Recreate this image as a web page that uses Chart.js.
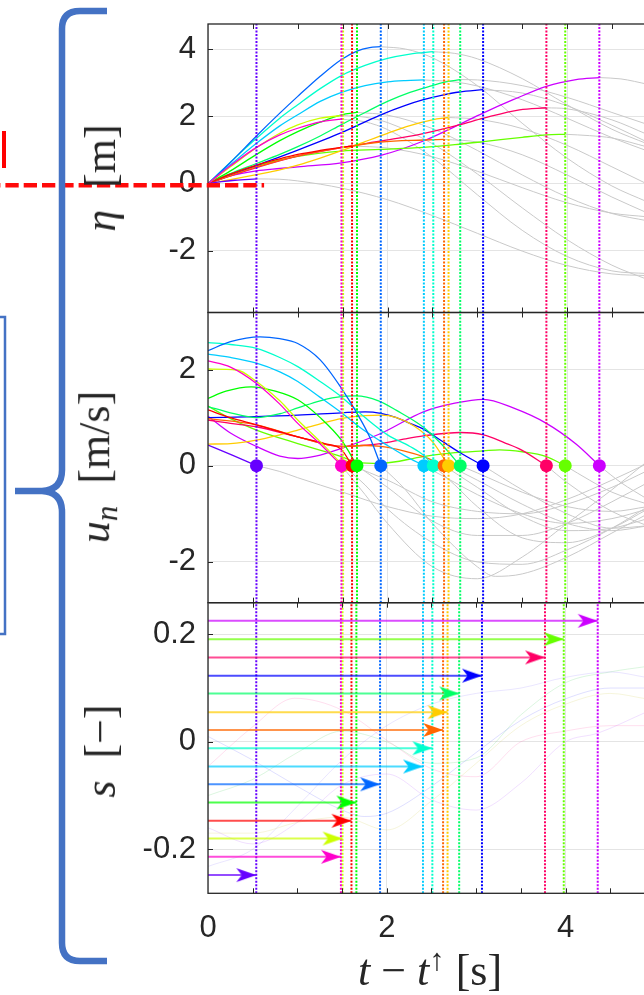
<!DOCTYPE html>
<html>
<head>
<meta charset="utf-8">
<script src="https://cdn.jsdelivr.net/npm/chart.js@4.4.1/dist/chart.umd.min.js"></script>
<style>
  html, body { margin: 0; padding: 0; background: #fff; overflow: hidden; }
  body { width: 644px; height: 995px; position: relative; }
  .panel { position: absolute; left: 0; }
  .lab { position: absolute; font-family: "Liberation Serif", "DejaVu Serif", serif; font-size: 44px; line-height: 44px; color: #262626; white-space: nowrap; }
  .ylab { transform: translate(-50%, -50%) rotate(-90deg); }
  .xlab { transform: translateX(-50%); }
  .sub { font-size: 0.7em; vertical-align: -0.25em; }
  .sup { font-size: 0.7em; vertical-align: 0.5em; }
  svg { position: absolute; left: 0; top: 0; }
</style>
</head>
<body>
<canvas id="eta" class="panel" width="700" height="320" style="top:0"></canvas>
<canvas id="un" class="panel" width="700" height="310" style="top:300px"></canvas>
<canvas id="s" class="panel" width="700" height="405" style="top:590px"></canvas>

<div class="lab ylab" style="left:101px; top:178px"><i>η</i>&nbsp;&nbsp;[m]</div>
<div class="lab ylab" style="left:101px; top:467px"><i>u</i><i class="sub">n</i>&nbsp;&nbsp;[m/s]</div>
<div class="lab ylab" style="left:101px; top:751px"><i>s</i>&nbsp;&nbsp;[−]</div>
<div class="lab xlab" style="left:430px; top:938px"><i>t</i> − <i>t</i><span class="sup">↑</span> [s]</div>

<svg width="644" height="995">
  <path d="M107 11 H80 Q62 11 62 29 V470 Q62 490 42 491 H15 M42 491 Q62 492 62 512 V943 Q62 961 80 961 H107"
        fill="none" stroke="#4472c4" stroke-width="6.5"/>
  <path d="M0 317 H5 V634 H0" fill="none" stroke="#4472c4" stroke-width="2.5"/>
  <rect x="2" y="131" width="4" height="37" fill="#ff0000"/>
</svg>

<script>
// axes
const X_MAX = 5.37;
const X_TICKS = [0, 2, 4];
const X_MINOR = [0.5, 1, 1.5, 2, 2.5, 3, 3.5, 4, 4.5, 5];
const ETA_TICKS = [-2, 0, 2, 4];
const U_TICKS = [-2, 0, 2];
const S_TICKS = [-0.2, 0, 0.2];
const ETA_RANGE = [-3.84, 4.756];
const U_RANGE = [-2.848, 3.185];
const S_RANGE = [-0.2819, 0.2588];

// one entry per event, sorted by event time
const EVENT_COLORS = ['#6600ff', '#ff00cc', '#ccff00', '#ff0000', '#00ff00', '#0066ff', '#00ccff', '#00ffcc',
    '#ff6600', '#ffcc00', '#00ff66', '#0000ff', '#ff0066', '#66ff00', '#cc00ff'];
const EVENT_T = [0.54, 1.487, 1.505, 1.605, 1.66, 1.925, 2.405, 2.51, 2.63, 2.68, 2.81, 3.065, 3.77, 3.98, 4.36];
const EVENT_S = [-0.248, -0.214, -0.180, -0.147, -0.113, -0.079, -0.046, -0.012, 0.022, 0.055, 0.090, 0.123, 0.157, 0.191, 0.225];
const MARKER_ORDER = [0, 2, 1, 3, 4, 5, 6, 7, 8, 9, 10, 11, 12, 13, 14];

// eta(t) per event, [t, eta]
const ETA_PURPLE = [[0,0],[0.15,0.06],[0.3,0.1],[0.54,0.14],[0.8,0.13],[1.0,0.08],[1.5,-0.14],[2.0,-0.48],[2.5,-0.95],[3.0,-1.48],[3.5,-2.01],[4.0,-2.44],[4.5,-2.69],[4.9,-2.74]];
const ETA_PINK = [[0,0],[0.25,0.53],[0.54,1.08],[0.8,1.45],[1.0,1.65],[1.25,1.84],[1.487,1.92],[1.75,1.84],[2.0,1.61],[2.5,0.78],[3.0,-0.33],[3.5,-1.39],[4.0,-2.17],[4.5,-2.6],[4.9,-2.68]];
const ETA_YGREEN = [[0,0],[0.25,0.5],[0.54,1.07],[0.8,1.5],[1.0,1.75],[1.25,1.95],[1.505,2.03],[1.75,1.98],[2.0,1.82],[2.5,1.19],[3.0,0.29],[3.5,-0.72],[4.0,-1.67],[4.5,-2.43],[4.9,-2.86]];
const ETA_RED = [[0,0],[0.25,0.28],[0.54,0.55],[0.8,0.74],[1.0,0.87],[1.25,0.99],[1.5,1.09],[1.605,1.12],[2.0,1.06],[2.5,0.8],[3.0,0.37],[3.5,-0.12],[4.0,-0.57],[4.5,-0.88],[4.9,-0.99]];
const ETA_GREEN = [[0,0],[0.25,0.38],[0.54,0.87],[0.8,1.28],[1.0,1.55],[1.25,1.83],[1.487,2.05],[1.66,2.12],[2.0,2.04],[2.5,1.64],[3.0,0.99],[3.5,0.26],[4.0,-0.4],[4.5,-0.89],[4.9,-1.11]];
const ETA_AZURE = [[0,0],[0.25,0.63],[0.54,1.42],[0.8,2.1],[1.0,2.6],[1.25,3.2],[1.487,3.7],[1.66,3.95],[1.8,4.05],[1.925,4.08],[2.2,4.01],[2.5,3.75],[3.0,2.92],[3.5,1.8],[4.0,0.76],[4.5,-0.07],[4.9,-0.55]];
const ETA_SKY = [[0,0],[0.25,0.56],[0.54,1.2],[0.8,1.72],[1.0,2.05],[1.25,2.45],[1.487,2.72],[1.75,2.92],[2.0,3.03],[2.2,3.07],[2.405,3.09],[2.75,3.03],[3.0,2.91],[3.5,2.5],[4.0,1.95],[4.5,1.37],[4.9,0.97]];
const ETA_AQUA = [[0,0],[0.25,0.64],[0.54,1.35],[0.8,1.95],[1.0,2.35],[1.25,2.83],[1.487,3.22],[1.75,3.52],[2.0,3.73],[2.25,3.86],[2.51,3.93],[2.75,3.88],[3.0,3.72],[3.5,3.13],[4.0,2.35],[4.5,1.62],[4.9,1.18]];
const ETA_ORANGE = [[0,0],[0.25,0.24],[0.54,0.5],[0.8,0.69],[1.0,0.83],[1.487,1.07],[1.925,1.24],[2.4,1.3],[2.63,1.32],[3.0,1.24],[3.5,0.86],[4.0,0.26],[4.5,-0.4],[4.9,-0.88]];
const ETA_AMBER = [[0,0],[0.25,0.12],[0.54,0.27],[0.8,0.41],[1.0,0.55],[1.25,0.76],[1.487,0.98],[1.75,1.25],[2.0,1.5],[2.25,1.73],[2.5,1.9],[2.68,1.97],[3.0,1.92],[3.5,1.64],[4.0,1.14],[4.5,0.5],[4.9,-0.02]];
const ETA_SPRING = [[0,0],[0.25,0.3],[0.54,0.6],[0.8,0.87],[1.0,1.1],[1.25,1.42],[1.487,1.76],[1.75,2.12],[2.0,2.45],[2.25,2.72],[2.5,2.92],[2.65,3.03],[2.81,3.1],[3.0,3.09],[3.5,2.92],[4.0,2.57],[4.5,2.12],[4.9,1.76]];
const ETA_BLUE = [[0,0],[0.25,0.25],[0.54,0.54],[1.0,1.0],[1.487,1.52],[1.925,2.05],[2.2,2.33],[2.4,2.5],[2.6,2.63],[2.8,2.73],[3.065,2.8],[3.5,2.7],[4.0,2.32],[4.5,1.74],[4.9,1.23]];
const ETA_CRIMSON = [[0,0],[0.25,0.23],[0.54,0.48],[1.0,0.82],[1.487,1.07],[1.925,1.27],[2.36,1.47],[2.8,1.75],[3.07,1.95],[3.47,2.2],[3.77,2.26],[4.0,2.23],[4.5,1.9],[4.9,1.46]];
const ETA_LIME = [[0,0],[0.25,0.29],[0.54,0.53],[1.0,0.81],[1.487,0.97],[1.925,1.02],[2.4,1.08],[2.75,1.16],[3.07,1.25],[3.5,1.38],[3.77,1.45],[3.98,1.47],[4.25,1.43],[4.5,1.36],[4.9,1.09]];
const ETA_VIOLET = [[0,0],[0.25,0.23],[0.54,0.38],[0.8,0.45],[1.0,0.5],[1.487,0.62],[1.925,0.84],[2.4,1.27],[2.75,1.7],[3.07,2.11],[3.4,2.5],[3.77,2.9],[4.1,3.1],[4.36,3.16],[4.6,3.12],[4.9,2.96]];

// u_n(t) per event, [t, u]
const U_PURPLE = [[0,0.43],[0.27,0.22],[0.54,0],[0.8,-0.12],[1.0,-0.25],[1.5,-0.55],[2.0,-0.85],[2.5,-1.05],[3.0,-1.1],[3.5,-1.0],[4.0,-0.7],[4.5,-0.3],[4.9,0.05]];
const U_PINK = [[0,2.18],[0.25,2.05],[0.54,1.71],[0.8,1.28],[1.0,0.88],[1.25,0.45],[1.487,0],[1.75,-0.6],[2.0,-1.2],[2.5,-2.1],[3.0,-2.35],[3.5,-1.9],[4.0,-1.2],[4.5,-0.5],[4.9,0.1]];
const U_YGREEN = [[0,2.01],[0.32,1.99],[0.54,1.75],[0.8,1.35],[1.0,0.95],[1.25,0.5],[1.505,0],[1.75,-0.4],[2.0,-0.9],[2.5,-1.6],[3.0,-2.0],[3.5,-2.05],[4.0,-1.75],[4.5,-1.3],[4.9,-0.85]];
const U_RED = [[0,1.16],[0.25,1.0],[0.54,0.85],[1.0,0.6],[1.3,0.46],[1.485,0.34],[1.605,0],[2.0,-0.3],[2.5,-0.75],[3.0,-0.95],[3.5,-1.0],[4.0,-0.8],[4.5,-0.45],[4.9,-0.1]];
const U_GREEN = [[0,1.4],[0.2,1.55],[0.48,1.64],[0.75,1.55],[1.0,1.37],[1.25,1.0],[1.487,0.53],[1.66,0],[2.0,-0.45],[2.5,-1.15],[3.0,-1.45],[3.5,-1.45],[4.0,-1.2],[4.5,-0.75],[4.9,-0.35]];
const U_AZURE = [[0,2.39],[0.25,2.58],[0.58,2.68],[0.8,2.64],[1.0,2.54],[1.25,2.2],[1.487,1.61],[1.66,1.09],[1.8,0.6],[1.925,0],[2.2,-0.5],[2.5,-1.2],[3.0,-2.1],[3.2,-2.3],[3.5,-2.25],[4.0,-1.9],[4.5,-1.4],[4.9,-1.0]];
const U_SKY = [[0,2.32],[0.25,2.25],[0.54,2.13],[0.8,1.95],[1.0,1.75],[1.25,1.42],[1.487,1.1],[1.75,0.72],[2.0,0.42],[2.2,0.2],[2.405,0],[2.75,-0.35],[3.0,-0.6],[3.5,-1.0],[4.0,-1.2],[4.5,-1.1],[4.9,-0.9]];
const U_AQUA = [[0,2.56],[0.25,2.52],[0.54,2.44],[0.8,2.25],[1.0,2.06],[1.25,1.75],[1.487,1.43],[1.75,1.0],[2.0,0.64],[2.25,0.4],[2.4,0.22],[2.51,0],[2.75,-0.4],[3.0,-0.85],[3.5,-1.5],[4.0,-1.6],[4.5,-1.3],[4.9,-0.9]];
const U_ORANGE = [[0,0.98],[0.54,0.85],[1.0,0.6],[1.485,0.4],[1.75,0.42],[1.925,0.4],[2.2,0.3],[2.4,0.19],[2.63,0],[3.0,-0.45],[3.5,-1.05],[4.0,-1.35],[4.5,-1.3],[4.9,-1.1]];
const U_AMBER = [[0,0.45],[0.25,0.46],[0.54,0.53],[0.8,0.64],[1.0,0.74],[1.25,0.87],[1.485,0.98],[1.75,1.04],[1.925,1.05],[2.1,1.0],[2.3,0.82],[2.5,0.5],[2.68,0],[3.0,-0.3],[3.5,-0.8],[4.0,-1.2],[4.5,-1.35],[4.9,-1.25]];
const U_SPRING = [[0,1.23],[0.25,1.1],[0.54,1.0],[0.8,1.08],[1.0,1.2],[1.25,1.35],[1.5,1.44],[1.65,1.45],[1.9,1.35],[2.1,1.15],[2.4,0.8],[2.6,0.45],[2.81,0],[3.0,-0.15],[3.5,-0.55],[4.0,-0.85],[4.5,-0.95],[4.9,-0.85]];
const U_BLUE = [[0,1.0],[0.54,1.02],[1.0,1.05],[1.487,1.1],[1.75,1.12],[1.925,1.09],[2.1,1.0],[2.25,0.88],[2.4,0.76],[2.6,0.52],[2.8,0.28],[3.065,0],[3.5,-0.5],[4.0,-1.0],[4.5,-1.3],[4.9,-1.25]];
const U_CRIMSON = [[0,0.95],[0.25,0.88],[0.54,0.81],[1.0,0.6],[1.485,0.4],[1.7,0.42],[1.92,0.46],[2.2,0.56],[2.4,0.62],[2.81,0.69],[3.07,0.64],[3.3,0.48],[3.49,0.33],[3.77,0],[4.0,-0.35],[4.5,-0.95],[4.9,-1.25]];
const U_LIME = [[0,1.24],[0.25,0.98],[0.54,0.74],[1.0,0.46],[1.487,0.19],[1.66,0.07],[1.925,0.05],[2.4,0.19],[2.75,0.27],[3.07,0.31],[3.25,0.33],[3.5,0.29],[3.77,0.19],[3.98,0],[4.25,-0.3],[4.5,-0.55],[4.9,-0.8]];
const U_VIOLET = [[0,1.03],[0.25,0.68],[0.54,0.4],[0.8,0.2],[1.0,0.15],[1.2,0.2],[1.485,0.36],[1.925,0.67],[2.4,1.12],[2.75,1.3],[3.07,1.38],[3.4,1.2],[3.77,0.88],[4.1,0.45],[4.36,0],[4.6,-0.35],[4.9,-0.7]];

// faint background traces of s(t)
const FAINT_1 = [[0,0.01],[0.5,-0.034],[1.0,-0.083],[1.5,-0.127],[1.75,-0.139],[2.0,-0.133],[2.5,-0.083],[3.0,-0.02],[3.5,0.04],[4.0,0.08],[4.5,0.1],[4.9,0.1]];
const FAINT_2 = [[0,-0.046],[0.5,0.028],[0.97,0.081],[1.5,0.059],[2.0,0.003],[2.5,-0.05],[3.0,-0.065],[3.5,0.0],[4.0,0.02],[4.5,0.03],[4.9,0.03]];
const FAINT_3 = [[0,-0.232],[0.5,-0.2],[1.0,-0.12],[1.5,-0.034],[2.0,0.03],[2.5,0.07],[3.0,0.09],[3.5,0.1],[4.0,0.12],[4.5,0.13],[4.9,0.12]];
const FAINT_4 = [[0,-0.16],[0.5,-0.19],[1.0,-0.15],[1.5,-0.08],[2.0,-0.06],[2.5,-0.108],[3.0,-0.127],[3.5,-0.077],[4.0,0.0],[4.36,0.016],[4.9,0.055]];
const FAINT_5 = [[0,-0.17],[0.5,-0.17],[1.0,-0.15],[1.5,-0.14],[2.0,-0.164],[2.5,-0.11],[3.0,-0.04],[3.5,0.03],[4.0,0.07],[4.5,0.09],[4.9,0.08]];
const FAINT_6 = [[0,-0.1],[0.5,-0.07],[1.0,-0.02],[1.5,0.02],[2.0,0.0],[2.5,-0.04],[3.0,-0.03],[3.5,0.05],[4.0,0.11],[4.5,0.13],[4.9,0.14]];
const FAINT_COLORS = ['#6f6fff', '#ff6fb8', '#9f8fff', '#c070ff', '#d8d060', '#60d870'];

const ETA_CURVES = [ETA_PURPLE, ETA_PINK, ETA_YGREEN, ETA_RED, ETA_GREEN, ETA_AZURE, ETA_SKY, ETA_AQUA,
    ETA_ORANGE, ETA_AMBER, ETA_SPRING, ETA_BLUE, ETA_CRIMSON, ETA_LIME, ETA_VIOLET];
const U_CURVES = [U_PURPLE, U_PINK, U_YGREEN, U_RED, U_GREEN, U_AZURE, U_SKY, U_AQUA,
    U_ORANGE, U_AMBER, U_SPRING, U_BLUE, U_CRIMSON, U_LIME, U_VIOLET];
const FAINT_CURVES = [FAINT_1, FAINT_2, FAINT_3, FAINT_4, FAINT_5, FAINT_6];

const TEXT = '#262626';
const GRID = '#e4e4e4';
const GRAY = '#c9c9c9';
const RED = '#ff0a0a';
const SANS = '"Liberation Sans", Arial, Helvetica, sans-serif';

Chart.defaults.font.family = SANS;
Chart.defaults.color = TEXT;

const toXY = pts => pts.map(([x, y]) => ({ x, y }));

function withAlpha(hex, a) {
    const n = parseInt(hex.slice(1), 16);
    return `rgba(${(n >> 16) & 255},${(n >> 8) & 255},${n & 255},${a})`;
}

function arrowHead(color) {
    const c = document.createElement('canvas');
    c.width = 44;
    c.height = 16;
    const g = c.getContext('2d');
    g.fillStyle = color;
    g.beginPath();
    g.moveTo(22, 8);
    g.lineTo(2, 1);
    g.lineTo(7.5, 8);
    g.lineTo(2, 15);
    g.closePath();
    g.fill();
    return c;
}

// coloured part up to the event time, grey afterwards
function curveSets(curves) {
    const colored = [];
    const gray = [];
    curves.forEach((pts, i) => {
        const T = EVENT_T[i];
        colored.push({ data: toXY(pts.filter(p => p[0] <= T + 1e-9)), borderColor: EVENT_COLORS[i], borderWidth: 1.3, order: 2 });
        gray.push({ data: toXY(pts.filter(p => p[0] >= T - 1e-9)), borderColor: GRAY, borderWidth: 1, order: 3 });
    });
    return colored.concat(gray);
}

function eventLines(range) {
    return EVENT_T.map((t, i) => ({
        data: [{ x: t, y: range[0] }, { x: t, y: range[1] }],
        borderColor: EVENT_COLORS[i],
        borderWidth: 2,
        borderDash: [2, 1.5],
        cubicInterpolationMode: 'default',
        tension: 0,
        order: 1,
    }));
}

const framePlugin = {
    id: 'frame',
    afterDraw(chart, args, opts) {
        const { ctx, chartArea: a, scales: { x, y } } = chart;
        ctx.save();
        ctx.strokeStyle = TEXT;
        ctx.lineWidth = 1;
        ctx.beginPath();
        X_MINOR.forEach(v => {
            const px = Math.round(x.getPixelForValue(v)) + 0.5;
            ctx.moveTo(px, a.top);
            ctx.lineTo(px, a.top + 5);
            ctx.moveTo(px, a.bottom);
            ctx.lineTo(px, a.bottom - 5);
        });
        (opts.yTicks || []).forEach(v => {
            const py = Math.round(y.getPixelForValue(v)) + 0.5;
            ctx.moveTo(a.left, py);
            ctx.lineTo(a.left + 5, py);
        });
        ctx.stroke();
        ctx.lineWidth = 1.3;
        ctx.strokeRect(a.left, a.top, a.right - a.left, a.bottom - a.top);
        ctx.restore();
    },
};

const RED_LINE_END = 0.625;
const RED_LINE_LEVEL = -0.05;

const redLinePlugin = {
    id: 'redLine',
    afterDraw(chart, args, opts) {
        if (!opts.show) return;
        const { ctx, scales: { x, y } } = chart;
        const py = y.getPixelForValue(RED_LINE_LEVEL);
        ctx.save();
        ctx.strokeStyle = RED;
        ctx.lineWidth = 4.5;
        ctx.setLineDash([13.3, 5]);
        ctx.lineDashOffset = -5.4;
        ctx.beginPath();
        ctx.moveTo(0, py);
        ctx.lineTo(x.getPixelForValue(RED_LINE_END), py);
        ctx.stroke();
        ctx.restore();
    },
};

function makeChart(id, cfg) {
    return new Chart(document.getElementById(id), {
        type: 'line',
        data: { datasets: cfg.datasets },
        options: {
            responsive: false,
            animation: false,
            events: [],
            layout: { padding: cfg.padding },
            elements: {
                point: { radius: 0 },
                line: { cubicInterpolationMode: 'monotone', fill: false },
            },
            plugins: {
                legend: { display: false },
                tooltip: { enabled: false },
                frame: { yTicks: cfg.yTicks },
                redLine: { show: !!cfg.redLine },
            },
            scales: {
                x: {
                    type: 'linear',
                    min: 0,
                    max: X_MAX,
                    afterBuildTicks: s => { s.ticks = X_TICKS.map(v => ({ value: v })); },
                    afterFit: s => { s.height = cfg.showX ? 60 : 0; },
                    ticks: { display: !!cfg.showX, maxRotation: 0, autoSkip: false, padding: 17, font: { size: 31 }, color: TEXT, callback: v => String(v) },
                    grid: { color: GRID, drawTicks: false },
                    border: { display: false },
                },
                y: {
                    type: 'linear',
                    min: cfg.yRange[0],
                    max: cfg.yRange[1],
                    afterBuildTicks: s => { s.ticks = cfg.yTicks.map(v => ({ value: v })); },
                    afterFit: s => { s.width = 208; s.paddingTop = 0; s.paddingBottom = 0; },
                    ticks: { padding: 12, font: { size: 31 }, color: TEXT, callback: v => String(v) },
                    grid: { color: GRID, drawTicks: false },
                    border: { display: false },
                },
            },
        },
        plugins: [framePlugin, redLinePlugin],
    });
}

makeChart('eta', {
    yRange: ETA_RANGE,
    yTicks: ETA_TICKS,
    padding: { top: 24, bottom: 7.5, left: 0, right: 10 },
    redLine: true,
    datasets: curveSets(ETA_CURVES).concat(eventLines(ETA_RANGE)),
});

const markers = {
    data: MARKER_ORDER.map(i => ({ x: EVENT_T[i], y: 0 })),
    showLine: false,
    pointRadius: 6.5,
    pointBackgroundColor: MARKER_ORDER.map(i => EVENT_COLORS[i]),
    pointBorderWidth: 0,
    order: 0,
};

makeChart('un', {
    yRange: U_RANGE,
    yTicks: U_TICKS,
    padding: { top: 12.5, bottom: 7.3, left: 0, right: 10 },
    datasets: curveSets(U_CURVES).concat(eventLines(U_RANGE), [markers]),
});

const faintSets = FAINT_CURVES.map((pts, i) => ({
    data: toXY(pts),
    borderColor: withAlpha(FAINT_COLORS[i], 0.22),
    borderWidth: 1,
    order: 4,
}));

const arrowSets = EVENT_T.map((t, i) => ({
    data: [{ x: 0, y: EVENT_S[i] }, { x: t, y: EVENT_S[i] }],
    borderColor: withAlpha(EVENT_COLORS[i], 0.7),
    borderWidth: 2,
    cubicInterpolationMode: 'default',
    tension: 0,
    pointRadius: [0, 10],
    pointStyle: arrowHead(EVENT_COLORS[i]),
    order: 0,
}));

makeChart('s', {
    yRange: S_RANGE,
    yTicks: S_TICKS,
    showX: true,
    padding: { top: 12.7, bottom: 41.7, left: 0, right: 10 },
    datasets: faintSets.concat(eventLines(S_RANGE), arrowSets),
});
</script>
</body>
</html>
